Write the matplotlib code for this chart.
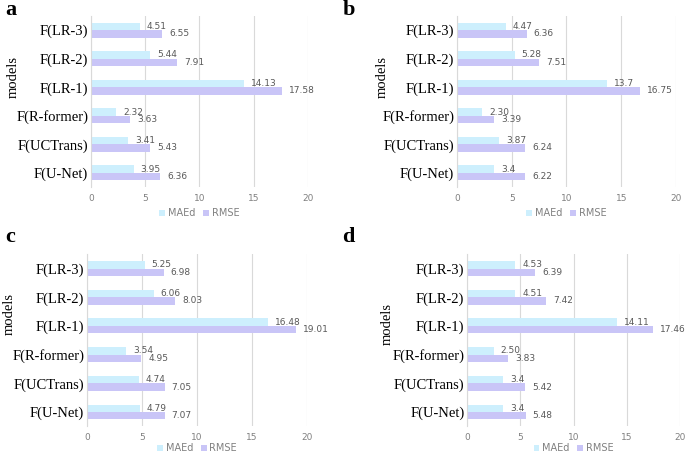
import numpy as np
import matplotlib
matplotlib.use("Agg")
import matplotlib.pyplot as plt

# categories top -> bottom
models = ["F(LR-3)", "F(LR-2)", "F(LR-1)", "F(R-former)", "F(UCTrans)", "F(U-Net)"]

maed_a = [4.51, 5.44, 14.13, 2.32, 3.41, 3.95]
rmse_a = [6.55, 7.91, 17.58, 3.63, 5.43, 6.36]
maed_b = [4.47, 5.28, 13.7, 2.30, 3.87, 3.4]
rmse_b = [6.36, 7.51, 16.75, 3.39, 6.24, 6.22]
maed_c = [5.25, 6.06, 16.48, 3.54, 4.74, 4.79]
rmse_c = [6.98, 8.03, 19.01, 4.95, 7.05, 7.07]
maed_d = [4.53, 4.51, 14.11, 2.50, 3.4, 3.4]
rmse_d = [6.39, 7.42, 17.46, 3.83, 5.42, 5.48]

maed_lbl_a = ["4.51", "5.44", "14.13", "2.32", "3.41", "3.95"]
rmse_lbl_a = ["6.55", "7.91", "17.58", "3.63", "5.43", "6.36"]
maed_lbl_b = ["4.47", "5.28", "13.7", "2.30", "3.87", "3.4"]
rmse_lbl_b = ["6.36", "7.51", "16.75", "3.39", "6.24", "6.22"]
maed_lbl_c = ["5.25", "6.06", "16.48", "3.54", "4.74", "4.79"]
rmse_lbl_c = ["6.98", "8.03", "19.01", "4.95", "7.05", "7.07"]
maed_lbl_d = ["4.53", "4.51", "14.11", "2.50", "3.4", "3.4"]
rmse_lbl_d = ["6.39", "7.42", "17.46", "3.83", "5.42", "5.48"]

xticks = [0, 5, 10, 15, 20]

C_MAED = "#cdeffd"
C_RMSE = "#c9c5f7"
GRID = "#d9d9d9"
TXT = "#595959"
SERIF = "Liberation Serif"

fig = plt.figure(figsize=(6.85, 4.54), dpi=100)

# [left, bottom, width, height] in figure fractions
boxes = {
    "a": [0.1328, 0.588, 0.3168, 0.377],
    "b": [0.667, 0.588, 0.320, 0.377],
    "c": [0.127, 0.061, 0.321, 0.379],
    "d": [0.682, 0.061, 0.311, 0.379],
}
# panel letter and y-label positions (figure fractions)
letter_pos = {"a": (0.008, 0.978), "b": (0.500, 0.978), "c": (0.008, 0.478), "d": (0.500, 0.478)}
ylabel_pos = {"a": (0.019, 0.83), "b": (0.558, 0.83), "c": (0.013, 0.308), "d": (0.566, 0.286)}
legend_y = {"a": -0.1, "b": -0.1, "c": -0.075, "d": -0.075}

panels = [
    ("a", maed_a, rmse_a, maed_lbl_a, rmse_lbl_a),
    ("b", maed_b, rmse_b, maed_lbl_b, rmse_lbl_b),
    ("c", maed_c, rmse_c, maed_lbl_c, rmse_lbl_c),
    ("d", maed_d, rmse_d, maed_lbl_d, rmse_lbl_d),
]

y = np.arange(len(models))
h = 0.26

for letter, maed, rmse, lm, lr in panels:
    ax = fig.add_axes(boxes[letter])
    ax.barh(y - h / 2, maed, height=h, color=C_MAED, label="MAEd", zorder=3)
    ax.barh(y + h / 2, rmse, height=h, color=C_RMSE, label="RMSE", zorder=3)
    for i in range(len(models)):
        ax.annotate(lm[i], (maed[i], y[i] - h / 2), xytext=(5, 0),
                    textcoords="offset points", va="center", ha="left",
                    fontsize=6.5, color=TXT)
        ax.annotate(lr[i], (rmse[i], y[i] + h / 2), xytext=(5, 0),
                    textcoords="offset points", va="center", ha="left",
                    fontsize=6.5, color=TXT)
    ax.set_xlim(0, 20)
    ax.set_ylim(len(models) - 0.5, -0.5)
    ax.set_xticks(xticks)
    ax.set_yticks(y)
    ax.set_yticklabels(models, family=SERIF, fontsize=10.5, color="black")
    ax.tick_params(axis="x", length=0, labelsize=6.5, labelcolor="#808080", pad=5)
    ax.tick_params(axis="y", length=0, pad=2)
    ax.grid(axis="x", color=GRID, linewidth=0.8, zorder=0)
    for s in ["top", "right", "bottom"]:
        ax.spines[s].set_visible(False)
    ax.spines["left"].set_color(GRID)
    ax.spines["left"].set_zorder(4)
    leg = ax.legend(loc="upper center", bbox_to_anchor=(0.5, legend_y[letter]), ncol=2,
                    frameon=False, fontsize=7, handlelength=0.6, handleheight=0.6,
                    handletextpad=0.3, columnspacing=0.8, borderaxespad=0)
    for t in leg.get_texts():
        t.set_color("#808080")

    lx, ly = ylabel_pos[letter]
    fig.text(lx, ly, "models", family=SERIF, fontsize=10.5, rotation=90,
             ha="center", va="center")
    px, py = letter_pos[letter]
    fig.text(px, py, letter, family=SERIF, fontweight="bold", fontsize=16, va="center")

fig.savefig("out.png", dpi=100)
